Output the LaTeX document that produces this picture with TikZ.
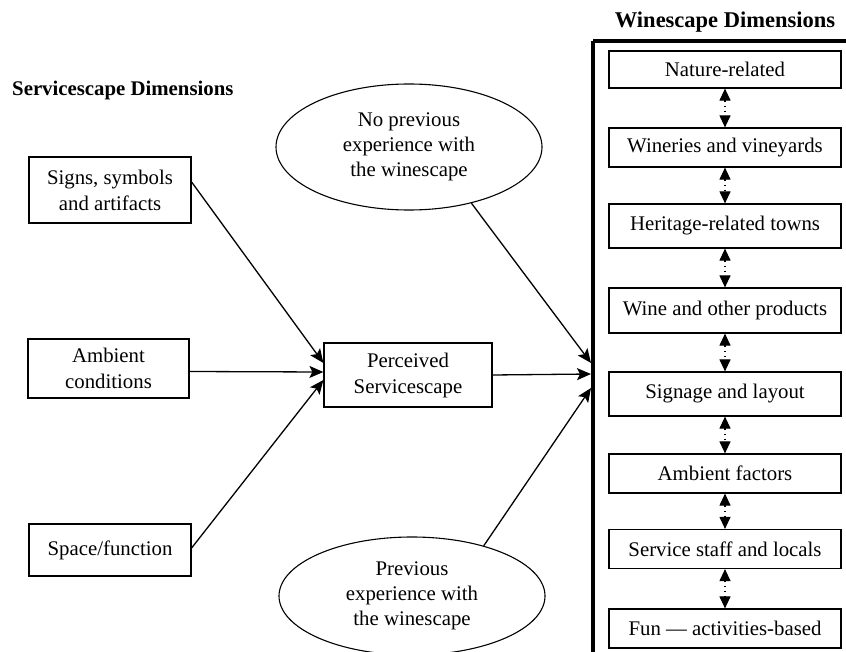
\documentclass[tikz,border=0pt]{standalone}
\usepackage{fontspec}
\setmainfont{Liberation Serif}
\usetikzlibrary{arrows.meta,shapes.geometric}

\tikzset{
  txt/.style={font=\fontsize{20.8}{26}\selectfont, align=center, inner sep=0pt},
  sbox/.style={txt, draw, line width=1.2pt, rectangle},
  wbox/.style={sbox, minimum width=232pt},
  oval/.style={txt, draw, line width=1.1pt, ellipse, minimum width=266pt, font=\fontsize{20.8}{25}\selectfont},
  flow/.style={line width=1.3pt, -{Stealth[length=14pt, width=12pt, inset=3pt]}},
  link/.style={line width=1.1pt, dash pattern=on 1.2pt off 4pt,
    {Triangle[length=12pt, width=11pt]}-{Triangle[length=12pt, width=11pt]}},
  frame/.style={line width=3.5pt},
  heading/.style={font=\bfseries, inner sep=0pt}
}

\begin{document}
\begin{tikzpicture}[x=1pt, y=-1pt]
  \useasboundingbox (0,0) rectangle (846,652);
  \clip (0,0) rectangle (846,652);

  % headings
  \node[heading, font=\fontsize{22.5}{27}\selectfont\bfseries] (wtitle) at (725,22) {Winescape Dimensions};
  \node[heading, font=\fontsize{20.8}{26}\selectfont\bfseries, anchor=west] (stitle) at (12,91) {Servicescape Dimensions};

  % frame around the winescape dimensions
  \draw[frame] (593,41) -- (880,41);
  \draw[frame] (593,41) -- (593,680);
  \coordinate (fA) at (591,363);
  \coordinate (fB) at (591,374);
  \coordinate (fC) at (591,388);

  % servicescape dimensions
  \node[sbox, minimum width=162pt, minimum height=66pt] (signs) at (110,190) {Signs, symbols\\and artifacts};
  \node[sbox, minimum width=161pt, minimum height=59pt] (amb) at (108.5,368.5) {Ambient\\conditions};
  \node[sbox, minimum width=162pt, minimum height=52pt] (space) at (110,550) {Space/function};
  \node[sbox, minimum width=168pt, minimum height=64pt] (perc) at (408,375) {Perceived\\Servicescape};

  % prior experience
  \node[oval, minimum height=126pt] (noprev) at (409,147) {No previous\\experience with\\the winescape};
  \node[oval, minimum height=118pt] (prev) at (412,596) {Previous\\experience with\\the winescape};

  % winescape dimensions
  \node[wbox, minimum height=37pt] (w1) at (725,69.5) {Nature-related};
  \node[wbox, minimum height=39pt] (w2) at (725,147.5) {Wineries and vineyards};
  \node[wbox, minimum height=44pt] (w3) at (725,226) {Heritage-related towns};
  \node[wbox, minimum height=45pt] (w4) at (725,310.5) {Wine and other products};
  \node[wbox, minimum height=44pt] (w5) at (725,394) {Signage and layout};
  \node[wbox, minimum height=39pt] (w6) at (725,473.5) {Ambient factors};
  \node[wbox, minimum height=39pt] (w7) at (725,549) {Service staff and locals};
  \node[wbox, minimum height=39pt] (w8) at (725,628.5) {Fun — activities-based};

  \foreach \a/\b in {w1/w2, w2/w3, w3/w4, w4/w5, w5/w6, w6/w7, w7/w8}
    \draw[link] (\a.south) -- (\b.north);

  % flows
  \draw[flow] ([yshift=8pt]signs.east) -- ([yshift=12pt]perc.west);
  \draw[flow] ([yshift=-3pt]amb.east) -- ([yshift=3pt]perc.west);
  \draw[flow] ([yshift=2pt]space.east) -- ([yshift=-5pt]perc.west);
  \draw[flow] (perc.east) -- (fB);
  \draw[flow] (noprev.-42) -- (fA);
  \draw[flow] (prev.35) -- (fC);
\end{tikzpicture}
\end{document}
